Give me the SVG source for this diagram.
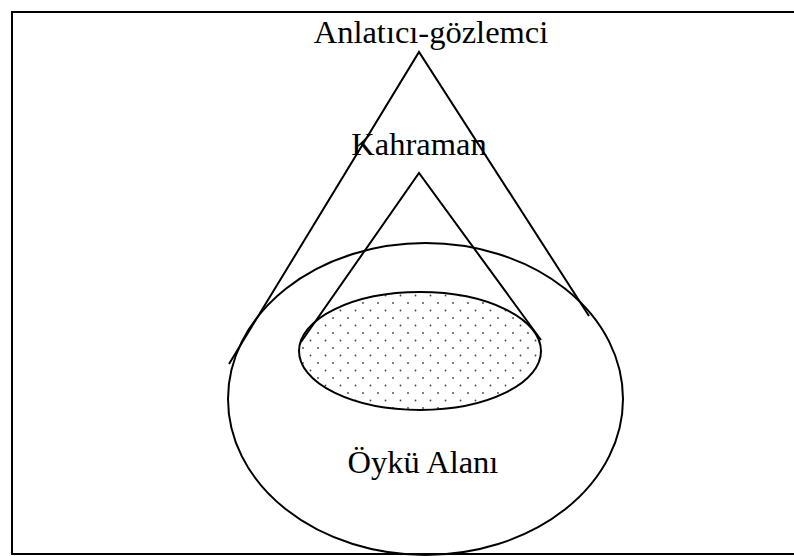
<svg xmlns="http://www.w3.org/2000/svg" width="794" height="556" viewBox="0 0 794 556">
<style>
.ln{fill:none;stroke:#000;stroke-width:2}
.lbl{font-family:"Liberation Serif","Times New Roman",serif;font-size:32.5px;fill:#000;text-anchor:middle}
</style>
<defs>
<pattern id="dots" patternUnits="userSpaceOnUse" width="15" height="15" x="0" y="0">
<circle cx="3" cy="3" r="0.9" fill="#444"/>
<circle cx="10.5" cy="10.5" r="0.9" fill="#444"/>
</pattern>
</defs>
<rect x="0" y="0" width="794" height="556" fill="#fff"/>
<rect id="frame" x="12" y="12" width="800" height="542" fill="none" stroke="#000" stroke-width="2"/>
<g id="oyku-alani">
<ellipse cx="425.5" cy="399" rx="197.5" ry="156" class="ln"/>
<text x="423" y="473" class="lbl">Öykü Alanı</text>
</g>
<g id="kahraman-alani">
<ellipse cx="420" cy="351" rx="121" ry="59" fill="url(#dots)" stroke="#000" stroke-width="2"/>
</g>
<g id="connectors">
<polyline class="ln" points="229,364 419,52 589,316"/>
<polyline class="ln" points="301,342 419,173 541,340"/>
</g>
<g id="anlatici">
<text x="431" y="43" class="lbl">Anlatıcı-gözlemci</text>
</g>
<g id="kahraman">
<text x="419" y="155" class="lbl">Kahraman</text>
</g>
</svg>
